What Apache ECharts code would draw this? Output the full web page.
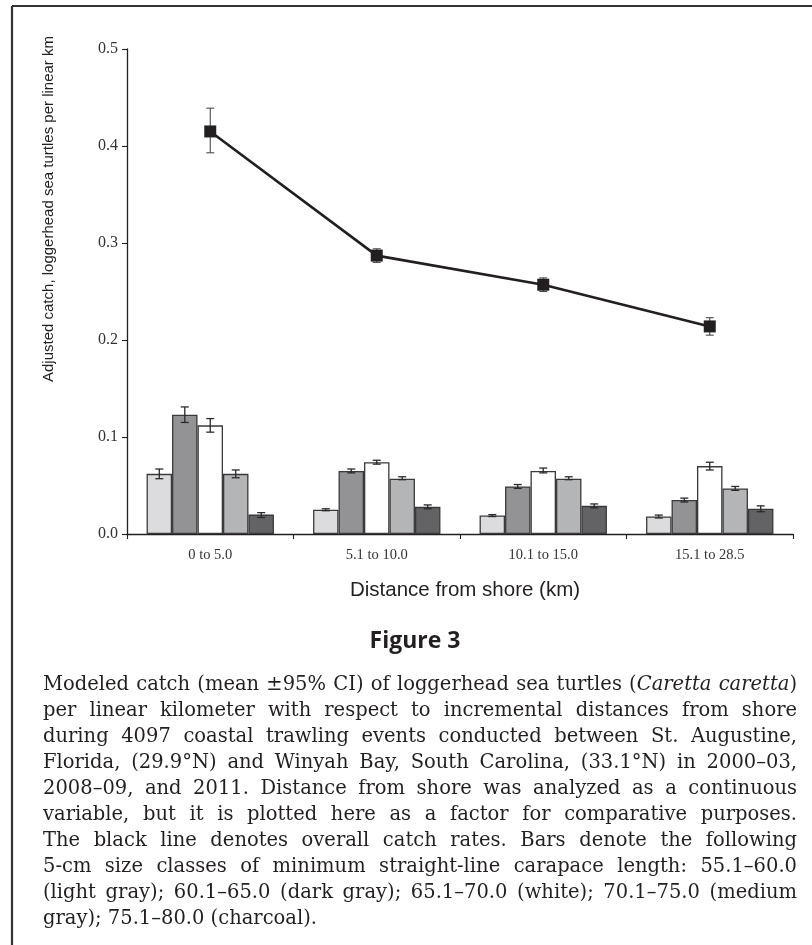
<!DOCTYPE html>
<html>
<head>
<meta charset="utf-8">
<title>Loggerhead catch by distance from shore</title>
<script src="https://cdn.jsdelivr.net/npm/echarts@6/dist/echarts.min.js"></script>
<style>
  html, body { margin: 0; padding: 0; background: #ffffff; }
  #wrap { position: relative; width: 812px; height: 945px; overflow: hidden; }
  #chart { position: absolute; left: 0; top: 0; width: 812px; height: 945px; }
  #caption {
    position: absolute; left: 43px; top: 671px; width: 754px;
    font-family: "DejaVu Serif", "Liberation Serif", serif;
    font-size: 19.5px; line-height: 26px; color: #231f20;
  }
  #caption div { text-align: justify; text-align-last: justify; white-space: nowrap; }
  #caption div.last { text-align-last: left; }
</style>
</head>
<body>
<div id="wrap">
  <div id="chart"></div>
  <div id="caption">
    <div>Modeled catch (mean ±95% CI) of loggerhead sea turtles (<i>Caretta caretta</i>)</div>
    <div>per linear kilometer with respect to incremental distances from shore</div>
    <div>during 4097 coastal trawling events conducted between St. Augustine,</div>
    <div>Florida, (29.9°N) and Winyah Bay, South Carolina, (33.1°N) in 2000–03,</div>
    <div>2008–09, and 2011. Distance from shore was analyzed as a continuous</div>
    <div>variable, but it is plotted here as a factor for comparative purposes.</div>
    <div>The black line denotes overall catch rates. Bars denote the following</div>
    <div>5-cm size classes of minimum straight-line carapace length: 55.1–60.0</div>
    <div>(light gray); 60.1–65.0 (dark gray); 65.1–70.0 (white); 70.1–75.0 (medium</div>
    <div class="last">gray); 75.1–80.0 (charcoal).</div>
  </div>
</div>
<script>
// Distance-from-shore bins
var categories = ['0 to 5.0', '5.1 to 10.0', '10.1 to 15.0', '15.1 to 28.5'];

// Overall catch rate (mean with 95% CI)
var overallMean = [0.415, 0.287, 0.257, 0.214];
var overallLow  = [0.393, 0.280, 0.250, 0.205];
var overallHigh = [0.439, 0.294, 0.264, 0.223];

// Size classes (minimum straight-line carapace length, cm)
var sizeClasses = ['55.1–60.0', '60.1–65.0', '65.1–70.0', '70.1–75.0', '75.1–80.0'];

var mean55 = [0.062, 0.025, 0.019, 0.018];
var low55  = [0.057, 0.024, 0.018, 0.0165];
var high55 = [0.067, 0.026, 0.020, 0.0195];

var mean60 = [0.123, 0.065, 0.049, 0.035];
var low60  = [0.115, 0.063, 0.047, 0.033];
var high60 = [0.131, 0.067, 0.051, 0.037];

var mean65 = [0.112, 0.074, 0.065, 0.070];
var low65  = [0.105, 0.072, 0.063, 0.066];
var high65 = [0.119, 0.076, 0.068, 0.074];

var mean70 = [0.062, 0.057, 0.057, 0.047];
var low70  = [0.058, 0.056, 0.056, 0.045];
var high70 = [0.066, 0.059, 0.059, 0.049];

var mean75 = [0.020, 0.028, 0.029, 0.026];
var low75  = [0.017, 0.026, 0.027, 0.023];
var high75 = [0.022, 0.030, 0.031, 0.029];

// Y-axis ticks
var yTicks = [0.0, 0.1, 0.2, 0.3, 0.4, 0.5];

var classMeans = [mean55, mean60, mean65, mean70, mean75];
var classLows  = [low55, low60, low65, low70, low75];
var classHighs = [high55, high60, high65, high70, high75];
var classFills = ['#dcdcde', '#939396', '#ffffff', '#b4b5b7', '#636366'];

var BAR_FRACTION = 0.153;   // each bar's share of a category band
var nClasses = classMeans.length;

function errorBarItem(offsetIndex, capHalf, color, width) {
  return function (params, api) {
    var band = api.size([1, 0])[0];
    var shift = offsetIndex === null ? 0 : (offsetIndex - (nClasses - 1) / 2) * band * BAR_FRACTION;
    var top = api.coord([api.value(0), api.value(2)]);
    var bot = api.coord([api.value(0), api.value(1)]);
    var x = top[0] + shift;
    var style = { stroke: color, lineWidth: width };
    return {
      type: 'group',
      children: [
        { type: 'line', shape: { x1: x, y1: top[1], x2: x, y2: bot[1] }, style: style },
        { type: 'line', shape: { x1: x - capHalf, y1: top[1], x2: x + capHalf, y2: top[1] }, style: style },
        { type: 'line', shape: { x1: x - capHalf, y1: bot[1], x2: x + capHalf, y2: bot[1] }, style: style }
      ]
    };
  };
}

var series = [];
classMeans.forEach(function (vals, i) {
  series.push({
    name: sizeClasses[i],
    type: 'bar',
    data: vals,
    barWidth: (BAR_FRACTION * 100) + '%',
    barGap: '0%',
    itemStyle: { color: classFills[i], borderColor: '#3a3a3c', borderWidth: 1.3 },
    z: 2
  });
});
classMeans.forEach(function (vals, i) {
  series.push({
    type: 'custom',
    renderItem: errorBarItem(i, 4, '#2a2a2c', 1.3),
    data: categories.map(function (c, k) { return [k, classLows[i][k], classHighs[i][k]]; }),
    z: 3,
    silent: true
  });
});
series.push({
  type: 'custom',
  renderItem: errorBarItem(null, 4, '#4a4a4c', 1.1),
  data: categories.map(function (c, k) { return [k, overallLow[k], overallHigh[k]]; }),
  z: 4,
  silent: true
});
series.push({
  name: 'Overall',
  type: 'line',
  data: overallMean,
  symbol: 'rect',
  symbolSize: 12,
  lineStyle: { color: '#231f20', width: 2.6 },
  itemStyle: { color: '#231f20' },
  z: 5
});

var chart = echarts.init(document.getElementById('chart'), null, { renderer: 'canvas' });
chart.setOption({
  animation: false,
  backgroundColor: '#ffffff',
  grid: { left: 127, right: 19, top: 49, bottom: 411, containLabel: false },
  xAxis: {
    type: 'category',
    data: categories,
    boundaryGap: true,
    axisLine: { lineStyle: { color: '#231f20', width: 1.3 } },
    axisTick: { show: true, length: 5, lineStyle: { color: '#231f20', width: 1.1 } },
    axisLabel: { color: '#333335', fontFamily: 'Liberation Serif', fontSize: 14.5, margin: 14 },
    splitLine: { show: false }
  },
  yAxis: {
    type: 'value',
    min: yTicks[0],
    max: yTicks[yTicks.length - 1],
    interval: 0.1,
    axisLine: { show: true, lineStyle: { color: '#231f20', width: 1.3 } },
    axisTick: { show: true, length: 5, lineStyle: { color: '#231f20', width: 1.1 } },
    axisLabel: {
      color: '#333335', fontFamily: 'Liberation Serif', fontSize: 16, margin: 9,
      formatter: function (v) { return v.toFixed(1); }
    },
    splitLine: { show: false }
  },
  graphic: [
    { type: 'line', shape: { x1: 12, y1: 6, x2: 812, y2: 6 }, style: { stroke: '#333335', lineWidth: 2.2 } },
    { type: 'line', shape: { x1: 12, y1: 6, x2: 12, y2: 945 }, style: { stroke: '#333335', lineWidth: 2.2 } },
    {
      type: 'text', x: 49, y: 209, rotation: Math.PI / 2,
      style: {
        text: 'Adjusted catch, loggerhead sea turtles per linear km',
        fontFamily: 'Liberation Sans', fontSize: 15, fill: '#231f20',
        textAlign: 'center', textVerticalAlign: 'middle'
      }
    },
    {
      type: 'text', x: 465, y: 590,
      style: {
        text: 'Distance from shore (km)',
        fontFamily: 'Liberation Sans', fontSize: 20.5, fill: '#231f20',
        textAlign: 'center', textVerticalAlign: 'middle'
      }
    },
    {
      type: 'text', x: 415, y: 641,
      style: {
        text: 'Figure 3',
        fontFamily: 'Open Sans', fontWeight: 'bold', fontSize: 23, fill: '#231f20',
        textAlign: 'center', textVerticalAlign: 'middle'
      }
    }
  ],
  series: series
});
</script>
</body>
</html>
